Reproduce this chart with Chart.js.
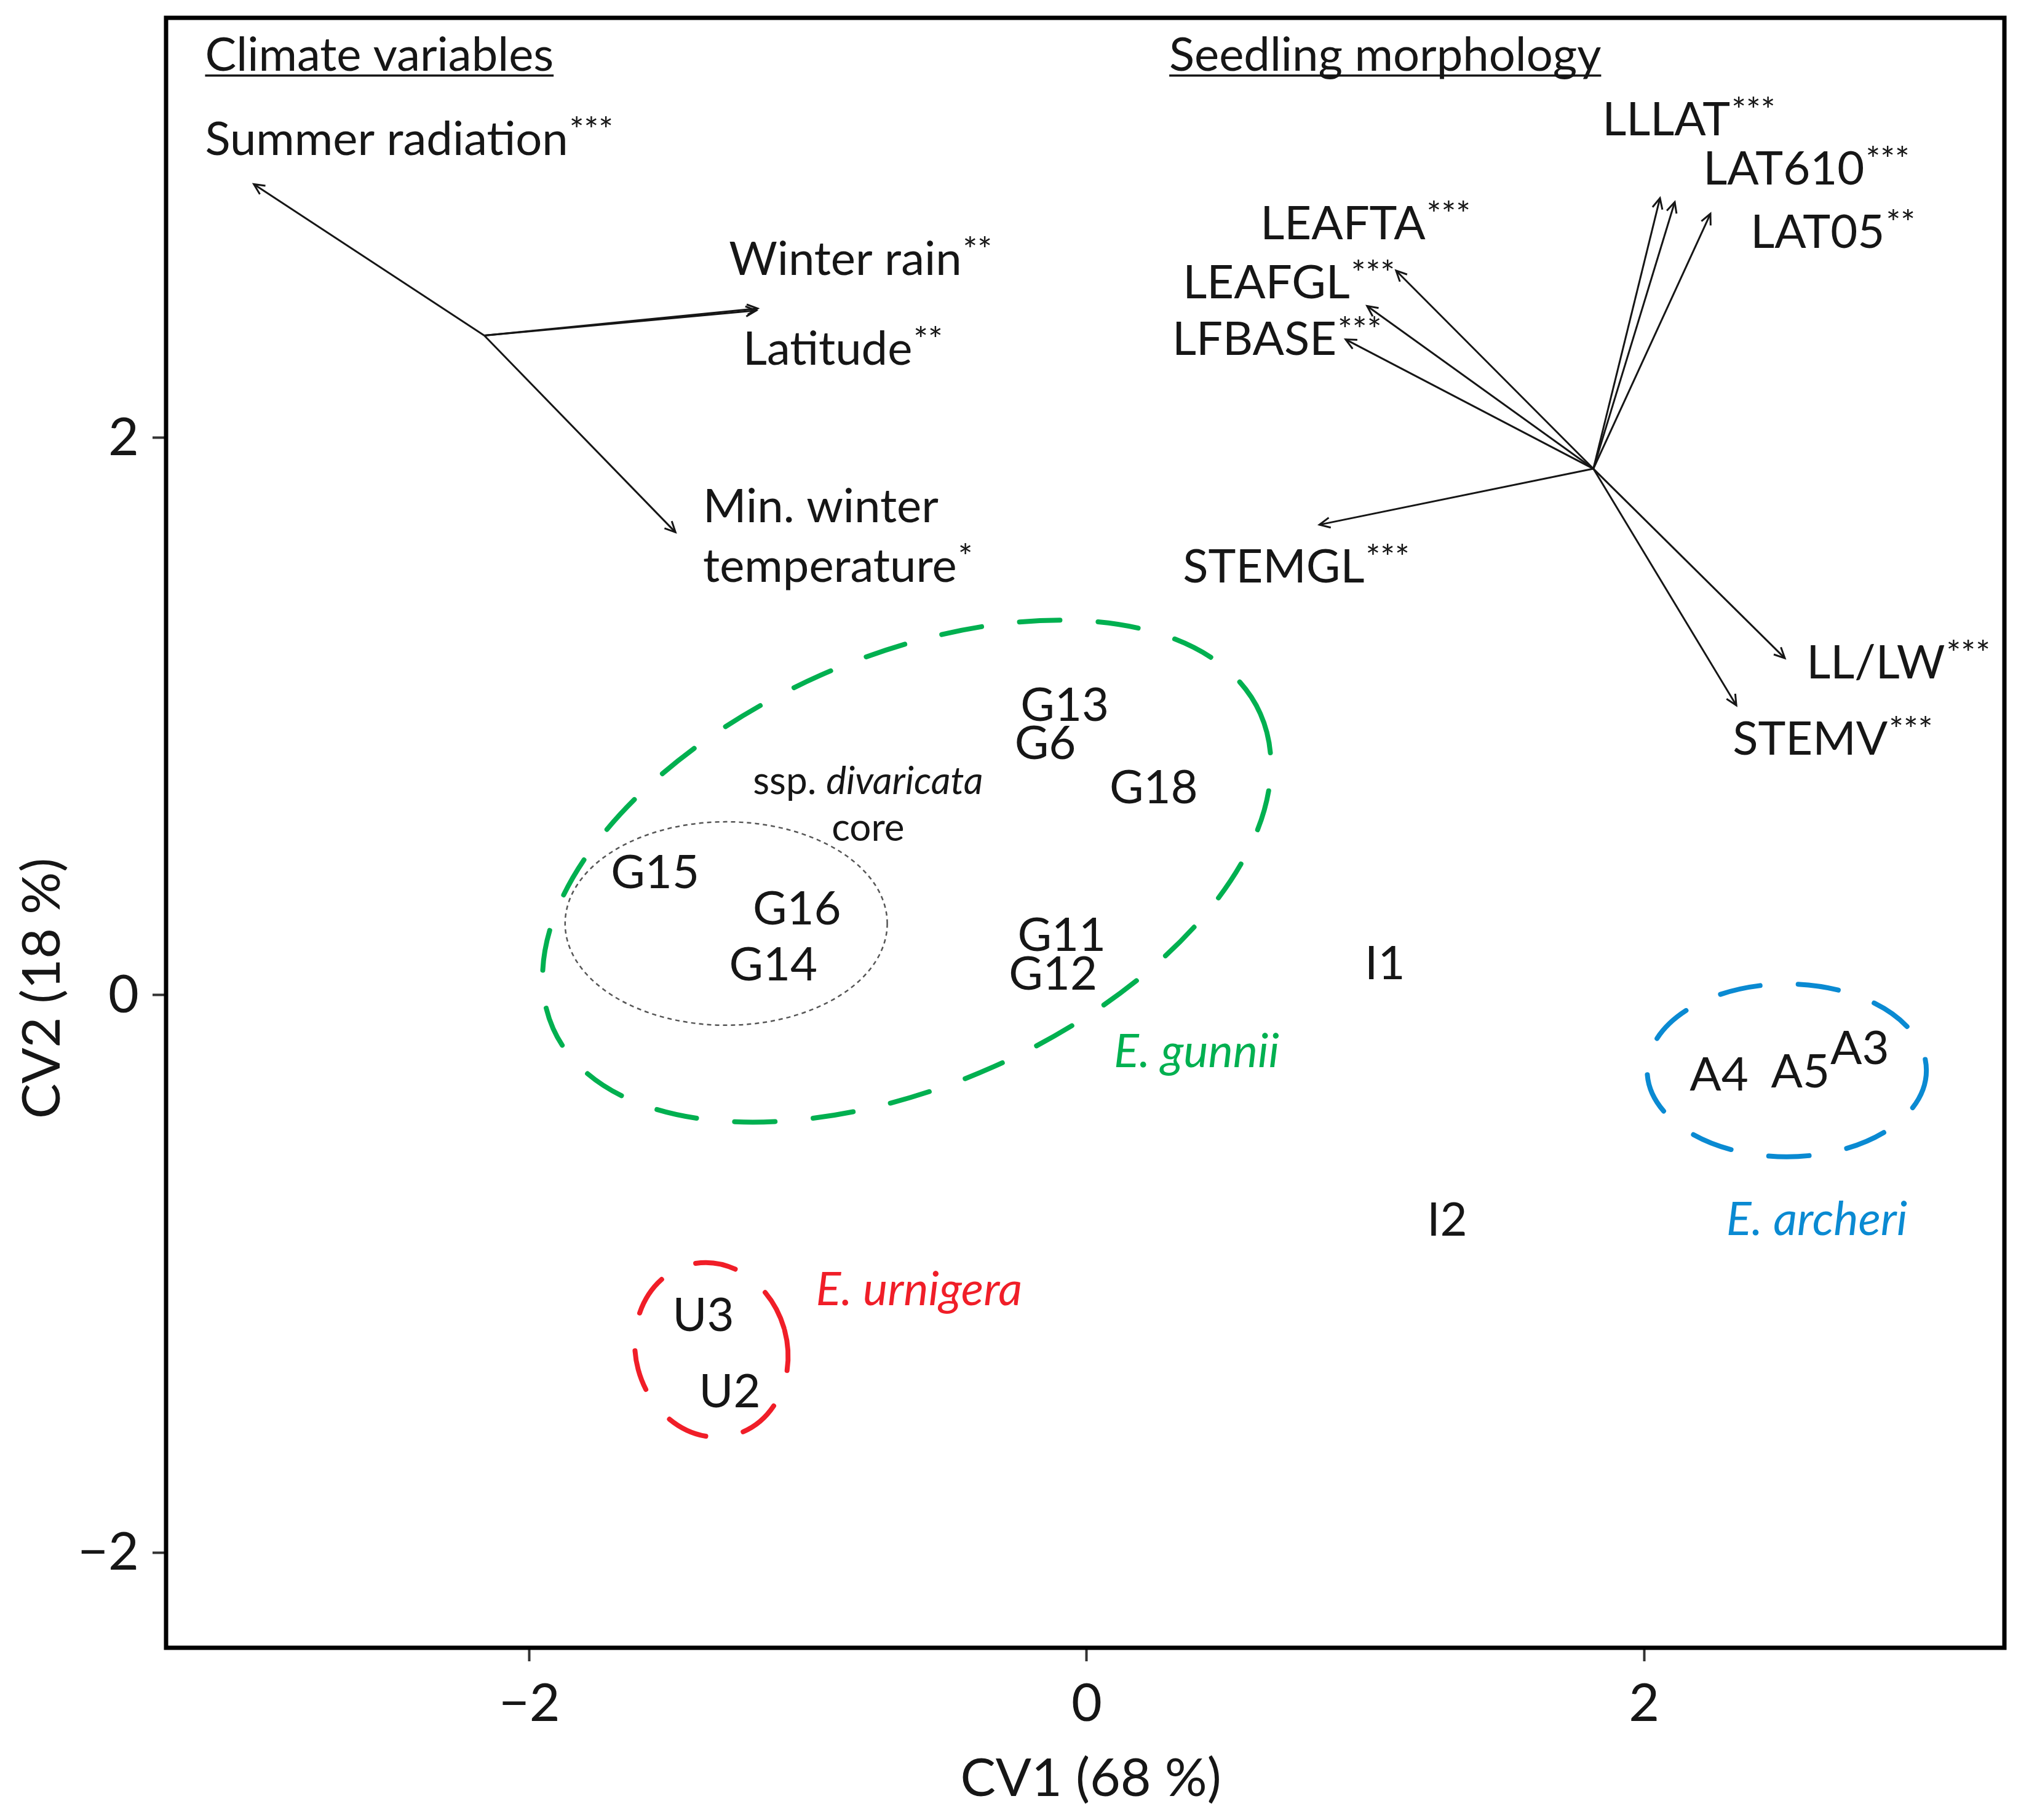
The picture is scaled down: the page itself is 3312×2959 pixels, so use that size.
<!DOCTYPE html>
<html>
<head>
<meta charset="utf-8">
<script src="https://cdn.jsdelivr.net/npm/chart.js@4.4.1/dist/chart.umd.min.js"></script>
<style>
  html, body { margin: 0; padding: 0; background: #fff; overflow: hidden; }
  canvas { display: block; }
</style>
</head>
<body>
<canvas id="cva" width="3312" height="2959"></canvas>
<script>
// population means on the first two canonical variates
const popLabels = ['G13', 'G6', 'G18', 'G15', 'G16', 'G14', 'G11', 'G12', 'I1', 'I2', 'A4', 'A5', 'A3', 'U3', 'U2']
const popCV1 = [-0.079, -0.149, 0.240, -1.549, -1.040, -1.125, -0.090, -0.121, 1.070, 1.293, 2.269, 2.561, 2.774, -1.376, -1.281]
const popCV2 = [1.044, 0.906, 0.748, 0.444, 0.314, 0.112, 0.219, 0.079, 0.117, -0.803, -0.282, -0.271, -0.188, -1.145, -1.419]

// climate vectors
const climateNames = ['Summer radiation', 'Winter rain', 'Latitude', 'Min. winter\ntemperature']
const climateSig = ['***', '**', '**', '*']
const climateOrigin = [-2.162, 2.367]
const climateCV1 = [-2.989, -1.181, -1.186, -1.476]
const climateCV2 = [2.910, 2.464, 2.457, 1.661]
const climateLabelX = [-3.164, -1.284, -1.234, -1.377]
const climateLabelY = [3.015, 2.584, 2.262, 1.697]

// seedling morphology vectors
const morphNames = ['LLLAT', 'LAT610', 'LAT05', 'LEAFTA', 'LEAFGL', 'LFBASE', 'STEMGL', 'LL/LW', 'STEMV']
const morphSig = ['***', '***', '**', '***', '***', '***', '***', '***', '***']
const morphOrigin = [1.818, 1.889]
const morphCV1 = [2.057, 2.110, 2.238, 1.110, 1.006, 0.929, 0.835, 2.505, 2.331]
const morphCV2 = [2.860, 2.846, 2.804, 2.600, 2.473, 2.353, 1.688, 1.209, 1.040]
const morphLabelX = [1.850, 2.212, 2.382, 0.623, 0.345, 0.307, 0.345, 2.583, 2.318]
const morphLabelY = [3.085, 2.909, 2.681, 2.712, 2.500, 2.297, 1.481, 1.136, 0.863]

// group ellipses: centre, semi axes, tilt (degrees)
const groupNames = ['E. gunnii', 'core', 'E. archeri', 'E. urnigera']
const groupCX = [-0.646, -1.294, 2.512, -1.347]
const groupCY = [0.445, 0.257, -0.270, -1.273]
const groupA = [1.389, 0.578, 0.501, 0.272]
const groupB = [0.768, 0.365, 0.310, 0.316]
const groupTilt = [24, 0, 0, 15]
const speciesNames = ['E. gunnii', 'E. archeri', 'E. urnigera']
const speciesX = [0.394, 2.620, -0.602]
const speciesY = [-0.198, -0.801, -1.053]

const xTicks = [-2, 0, 2]
const yTicks = [-2, 0, 2]

const FONT = 'Lato, "Open Sans", sans-serif'
const INK = '#161616'
const groupColors = ['#00b050', '#555555', '#0a8ad2', '#f01e28']

const arrowSets = []
climateNames.forEach((n, i) => {
  arrowSets.push({
    type: 'line',
    label: n,
    data: [{x: climateOrigin[0], y: climateOrigin[1]}, {x: climateCV1[i], y: climateCV2[i]}],
    borderColor: INK,
    borderWidth: 3,
    pointRadius: 0,
    fill: false
  })
})
morphNames.forEach((n, i) => {
  arrowSets.push({
    type: 'line',
    label: n,
    data: [{x: morphOrigin[0], y: morphOrigin[1]}, {x: morphCV1[i], y: morphCV2[i]}],
    borderColor: INK,
    borderWidth: 3,
    pointRadius: 0,
    fill: false
  })
})

function arrowHead(ctx, x0, y0, x1, y1){
  const ang = Math.atan2(y1 - y0, x1 - x0)
  const len = 19, spread = Math.PI / 7
  ctx.beginPath()
  ctx.moveTo(x1 - len * Math.cos(ang - spread), y1 - len * Math.sin(ang - spread))
  ctx.lineTo(x1, y1)
  ctx.lineTo(x1 - len * Math.cos(ang + spread), y1 - len * Math.sin(ang + spread))
  ctx.stroke()
}

function starLabel(ctx, text, stars, x, y){
  ctx.font = '76px ' + FONT
  ctx.textAlign = 'left'
  ctx.textBaseline = 'alphabetic'
  ctx.fillText(text, x, y)
  if(stars){
    const w = ctx.measureText(text).width
    ctx.font = '56px ' + FONT
    ctx.fillText(stars, x + w + 2, y - 21)
  }
}

const overlay = {
  id: 'overlay',
  beforeDatasetsDraw(chart){
    const ctx = chart.ctx
    const xs = chart.scales.x, ys = chart.scales.y
    const ppx = xs.getPixelForValue(1) - xs.getPixelForValue(0)
    const ppy = ys.getPixelForValue(0) - ys.getPixelForValue(1)
    ctx.save()
    groupNames.forEach((g, i) => {
      ctx.beginPath()
      ctx.ellipse(xs.getPixelForValue(groupCX[i]), ys.getPixelForValue(groupCY[i]),
        groupA[i] * ppx, groupB[i] * ppy, -groupTilt[i] * Math.PI / 180, 0, Math.PI * 2)
      ctx.strokeStyle = groupColors[i]
      if(g == 'core'){
        ctx.lineWidth = 2.5
        ctx.setLineDash([7, 6])
        ctx.lineCap = 'butt'
      } else {
        ctx.lineWidth = 8
        ctx.setLineDash([66, 62])
        ctx.lineCap = 'round'
      }
      ctx.stroke()
    })
    ctx.restore()
  },
  afterDatasetsDraw(chart){
    const ctx = chart.ctx
    const xs = chart.scales.x, ys = chart.scales.y
    const area = chart.chartArea
    ctx.save()
    // arrow heads
    ctx.strokeStyle = INK
    ctx.lineWidth = 3
    ctx.setLineDash([])
    climateNames.forEach((n, i) => {
      arrowHead(ctx, xs.getPixelForValue(climateOrigin[0]), ys.getPixelForValue(climateOrigin[1]),
        xs.getPixelForValue(climateCV1[i]), ys.getPixelForValue(climateCV2[i]))
    })
    morphNames.forEach((n, i) => {
      arrowHead(ctx, xs.getPixelForValue(morphOrigin[0]), ys.getPixelForValue(morphOrigin[1]),
        xs.getPixelForValue(morphCV1[i]), ys.getPixelForValue(morphCV2[i]))
    })

    ctx.fillStyle = INK
    // headings
    ctx.font = '76px ' + FONT
    ctx.textAlign = 'left'
    ctx.textBaseline = 'alphabetic'
    ;[['Climate variables', -3.164], ['Seedling morphology', 0.296]].forEach(h => {
      const x = xs.getPixelForValue(h[1]), y = ys.getPixelForValue(3.317)
      ctx.fillText(h[0], x, y)
      const w = ctx.measureText(h[0]).width
      ctx.fillRect(x, y + 6, w, 3.5)
    })

    // vector labels
    climateNames.forEach((n, i) => {
      const lines = n.split('\n')
      const x = xs.getPixelForValue(climateLabelX[i]), y = ys.getPixelForValue(climateLabelY[i])
      lines.forEach((l, j) => {
        starLabel(ctx, l, j == lines.length - 1 ? climateSig[i] : '', x, y + j * 97)
      })
    })
    morphNames.forEach((n, i) => {
      starLabel(ctx, n, morphSig[i], xs.getPixelForValue(morphLabelX[i]), ys.getPixelForValue(morphLabelY[i]))
    })

    // population labels
    ctx.font = '76px ' + FONT
    ctx.textAlign = 'center'
    chart.getDatasetMeta(0).data.forEach((pt, i) => {
      ctx.fillText(popLabels[i], pt.x, pt.y + 27)
    })

    // ssp. divaricata core
    ctx.font = '62px ' + FONT
    const a = 'ssp. ', b = 'divaricata'
    const wa = ctx.measureText(a).width
    ctx.font = 'italic 62px ' + FONT
    const wb = ctx.measureText(b).width
    const cx = xs.getPixelForValue(-0.785)
    const left = cx - (wa + wb) / 2
    ctx.textAlign = 'left'
    ctx.font = '62px ' + FONT
    ctx.fillText(a, left, ys.getPixelForValue(0.721))
    ctx.font = 'italic 62px ' + FONT
    ctx.fillText(b, left + wa, ys.getPixelForValue(0.721))
    ctx.font = '62px ' + FONT
    ctx.textAlign = 'center'
    ctx.fillText('core', cx, ys.getPixelForValue(0.554))

    // species names
    ctx.font = 'italic 76px ' + FONT
    speciesNames.forEach((s, i) => {
      ctx.fillStyle = groupColors[[0, 2, 3][i]]
      ctx.fillText(s, xs.getPixelForValue(speciesX[i]), ys.getPixelForValue(speciesY[i]) + 27)
    })

    // frame
    ctx.strokeStyle = '#000'
    ctx.lineWidth = 7
    ctx.strokeRect(area.left, area.top, area.right - area.left, area.bottom - area.top)

    // axis titles
    ctx.fillStyle = INK
    ctx.font = '86px ' + FONT
    ctx.textAlign = 'center'
    ctx.fillText('CV1 (68 %)', (area.left + area.right) / 2 + 9, 2920)
    ctx.translate(97, 1607)
    ctx.rotate(-Math.PI / 2)
    ctx.fillText('CV2 (18 %)', 0, 0)
    ctx.restore()
  }
}

new Chart('cva', {
  type: 'scatter',
  data: {
    datasets: [{
      label: 'populations',
      data: popLabels.map((p, i) => ({x: popCV1[i], y: popCV2[i]})),
      pointRadius: 0
    }].concat(arrowSets)
  },
  options: {
    responsive: false,
    animation: false,
    devicePixelRatio: 1,
    layout: {padding: {left: 0, right: 53, top: 29, bottom: 0}},
    plugins: {legend: {display: false}, tooltip: {enabled: false}},
    scales: {
      x: {
        type: 'linear',
        min: -3.304,
        max: 3.293,
        afterBuildTicks: s => { s.ticks = xTicks.map(v => ({value: v})) },
        afterFit: s => { s.height = 280; s.paddingLeft = 0; s.paddingRight = 0 },
        grid: {drawOnChartArea: false, tickLength: 22, tickWidth: 4, tickColor: '#333'},
        border: {display: false},
        ticks: {
          padding: 18,
          color: INK,
          font: {family: FONT, size: 86},
          callback: v => v < 0 ? '\u2212' + Math.abs(v) : '' + v
        }
      },
      y: {
        type: 'linear',
        min: -2.342,
        max: 3.507,
        afterBuildTicks: s => { s.ticks = yTicks.map(v => ({value: v})) },
        afterFit: s => { s.width = 270; s.paddingTop = 0; s.paddingBottom = 0 },
        grid: {drawOnChartArea: false, tickLength: 22, tickWidth: 4, tickColor: '#333'},
        border: {display: false},
        ticks: {
          padding: 22,
          color: INK,
          font: {family: FONT, size: 86},
          callback: v => v < 0 ? '\u2212' + Math.abs(v) : '' + v
        }
      }
    }
  },
  plugins: [overlay]
})
</script>
</body>
</html>
